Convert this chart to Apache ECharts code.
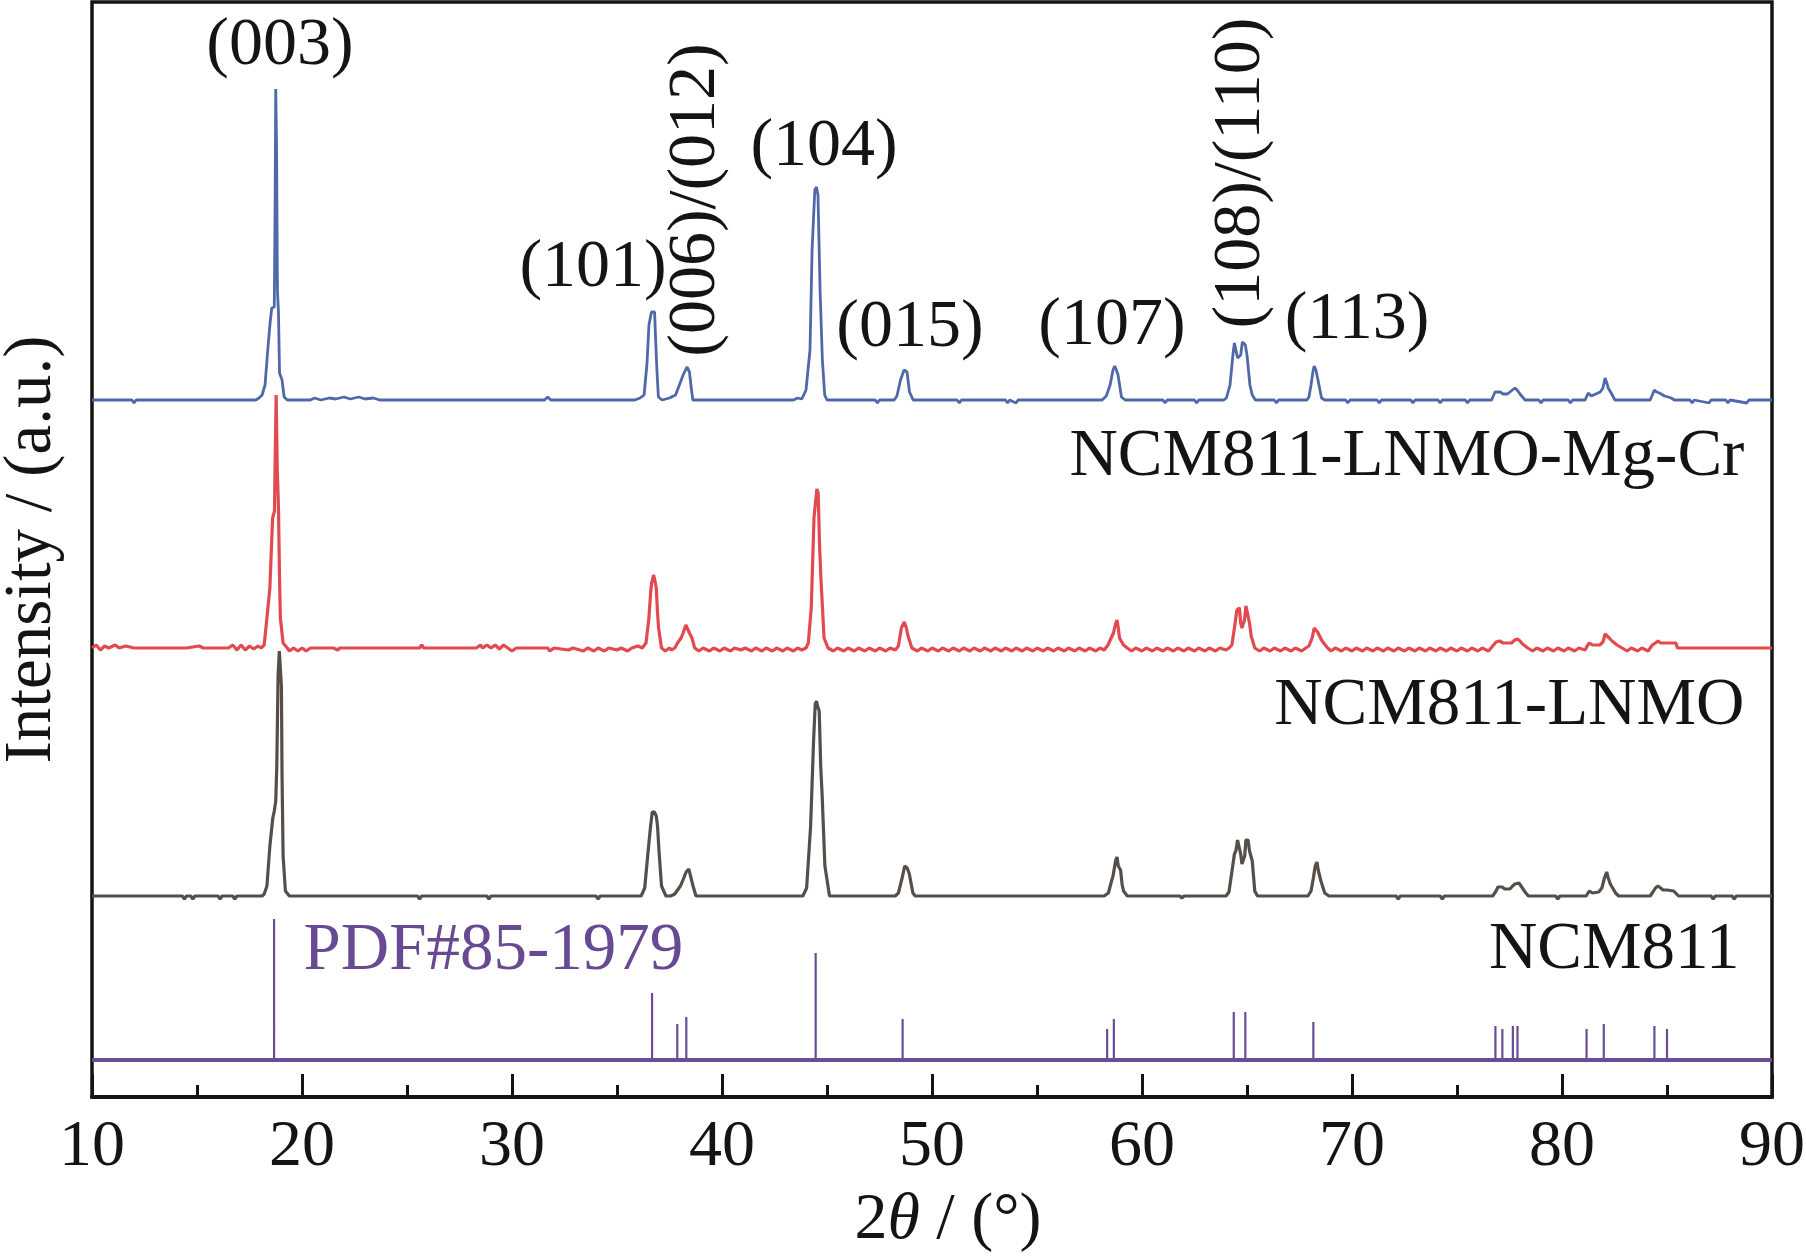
<!DOCTYPE html>
<html>
<head>
<meta charset="utf-8">
<script src="https://cdn.jsdelivr.net/npm/echarts@6/dist/echarts.min.js"></script>
<style>
html,body{margin:0;padding:0;background:#fff;}
#chart{width:1806px;height:1259px;}
</style>
</head>
<body>
<div id="chart"></div>
<script>
// ---- Data (2θ in degrees, intensity in arbitrary units) ----
const xTicks = [10, 20, 30, 40, 50, 60, 70, 80, 90];

// NCM811-LNMO-Mg-Cr (blue)
const mgcrProfile = [
[10,0],[11.9,0],[12.0,-3],[12.1,0],[17.8,0],[17.95,2],[18.1,5],[18.24,15],[18.35,45],[18.48,77],[18.56,92],[18.68,93],[18.72,200],[18.75,311],[18.79,250],[18.83,110],[18.88,87],[18.93,27],[19.05,20],[19.15,3],[19.3,0],
[20.4,0],[20.6,2],[20.9,0],[21.3,2],[21.6,1],[22.0,3],[22.3,1],[22.7,3],[23.0,1],[23.4,2],[23.7,0],
[31.55,0],[31.7,3],[31.85,0],
[35.85,0],[36.1,2],[36.29,5],[36.43,37],[36.52,75],[36.64,88],[36.79,88],[36.84,60],[36.9,30],[36.97,3],[37.15,0],[37.5,2],[37.79,5],[37.97,15],[38.15,25],[38.33,33],[38.45,28],[38.52,15],[38.61,0],
[43.4,0],[43.6,2],[43.8,1],[44.0,10],[44.19,50],[44.29,150],[44.42,210],[44.5,213],[44.57,205],[44.67,110],[44.78,40],[44.89,5],[45.0,0],
[47.3,0],[47.4,-3],[47.5,0],[48.2,0],[48.33,4],[48.5,20],[48.67,30],[48.81,28],[48.93,8],[49.1,0],
[51.2,0],[51.3,-3],[51.4,0],[53.5,0],[53.6,-3],[53.7,0],[54.0,-3],[54.1,0],
[58.1,0],[58.3,4],[58.48,15],[58.62,30],[58.7,34],[58.78,30],[58.86,25],[59.02,3],[59.2,0],
[61.0,0],[61.1,-3],[61.2,0],[62.5,0],[62.6,-3],[62.7,0],
[63.9,0],[64.02,2],[64.19,15],[64.33,45],[64.4,57],[64.47,57],[64.55,42],[64.62,40],[64.7,45],[64.78,58],[64.86,60],[64.92,55],[65.0,45],[65.14,15],[65.25,5],[65.4,0],
[66.3,0],[66.4,-3],[66.5,0],
[67.85,0],[67.95,3],[68.05,15],[68.15,30],[68.2,34],[68.28,30],[68.38,20],[68.55,2],[68.7,0],
[69.7,0],[69.8,-3],[69.9,0],[71.2,0],[71.3,-3],[71.4,0],
[72.8,0],[72.9,-3],[73.0,0],[74.1,0],[74.2,-3],[74.3,0],[75.4,0],[75.5,-3],[75.6,0],
[76.65,0],[76.81,8],[77.05,8],[77.2,6],[77.4,6],[77.52,8],[77.76,12],[77.9,9],[78.0,6],[78.24,0],
[78.9,0],[79.0,-3],[79.1,0],[80.3,0],[80.4,-3],[80.5,0],
[81.1,0],[81.25,7],[81.4,4],[81.5,5],[81.82,8],[81.95,12],[82.05,22],[82.12,18],[82.2,12],[82.37,6],[82.52,0],
[84.2,0],[84.4,10],[84.5,8],[84.64,7],[84.88,4],[85.2,2],[85.35,0],
[86.1,0],[86.2,-3],[86.3,0],[87.0,-3],[87.1,0],[87.8,0],[87.9,-3],[88.0,0],[88.8,-3],[88.9,0],[90,0]
];

// NCM811-LNMO (red)
const lnmoProfile = [
[10,0],[10.2,3],[10.4,-2],[10.6,2],[10.8,0],[11.1,3],[11.3,0],[11.6,2],[12.0,0],[14.5,0],[15.1,2],[15.3,0],[16.5,0],[16.7,3],[16.9,-2],[17.1,3],[17.3,-2],[17.5,2],[17.7,-1],[17.9,2],[18.05,0],
[18.2,3],[18.33,30],[18.47,60],[18.6,130],[18.69,137],[18.73,200],[18.77,253],[18.82,180],[18.88,140],[18.93,70],[18.97,30],[19.1,5],[19.3,0],[19.4,-3],[19.6,0],[19.8,-3],[20.0,0],[20.2,-3],[20.4,0],[21.5,0],[21.7,-2],[21.8,0],
[25.6,0],[25.7,3],[25.8,0],[28.3,0],[28.5,3],[28.6,0],[28.8,3],[29.0,0],[29.2,3],[29.4,-1],[29.6,3],[29.8,0],[30.0,-3],[30.2,0],
[31.7,0],[31.8,-3],[32.0,0],[32.7,-2],[32.9,0],[33.4,-3],[33.6,0],[33.9,-3],[34.1,0],[34.4,-3],[34.6,0],[35.0,-2],[35.2,0],[35.5,-3],[35.7,0],[36.0,2],[36.2,0],
[36.38,5],[36.52,30],[36.6,55],[36.65,65],[36.74,73],[36.8,68],[36.87,60],[36.93,35],[36.98,20],[37.12,0],[37.3,-3],[37.5,0],[37.6,-2],[37.75,0],
[37.88,5],[38.05,10],[38.15,15],[38.28,23],[38.37,23],[38.45,15],[38.57,10],[38.7,0],
[38.9,-3],[39.1,0],[39.4,-3],[39.6,0],[39.9,-3],[40.1,0],[40.4,-3],[40.6,0],[40.9,-2],[41.1,0],[41.4,-3],[41.6,0],[41.9,-3],[42.1,0],[42.4,-3],[42.6,0],[42.9,-3],[43.1,0],[43.4,-3],[43.6,0],[43.8,-2],[44.0,0],
[44.11,5],[44.25,40],[44.38,130],[44.45,145],[44.52,159],[44.58,155],[44.65,100],[44.71,70],[44.86,10],[45.05,0],
[45.3,-3],[45.5,0],[45.8,-3],[46.0,0],[46.3,-3],[46.5,0],[46.8,-3],[47.0,0],[47.3,-3],[47.5,0],[47.8,-3],[48.0,0],[48.25,-2],
[48.4,2],[48.54,20],[48.68,26],[48.78,20],[48.86,12],[49.04,0],
[49.3,-3],[49.5,0],[49.8,-3],[50.0,0],[50.3,-3],[50.5,0],[50.8,-3],[51.0,0],[51.3,-3],[51.5,0],[51.8,-3],[52.0,0],[52.3,-3],[52.5,0],[52.8,-3],[53.0,0],[53.3,-3],[53.5,0],[53.8,-3],[54.0,0],[54.3,-3],[54.5,0],[54.8,-3],[55.0,0],[55.3,-3],[55.5,0],[55.8,-3],[56.0,0],[56.3,-3],[56.5,0],[56.8,-3],[57.0,0],[57.3,-3],[57.5,0],[57.8,-3],[58.0,0],[58.2,-2],
[58.38,3],[58.64,15],[58.75,25],[58.81,28],[58.87,20],[58.93,10],[59.12,3],[59.3,0],
[59.5,-3],[59.7,0],[60.0,-3],[60.2,0],[60.5,-3],[60.7,0],[61.0,-3],[61.2,0],[61.5,-3],[61.7,0],[62.0,-3],[62.2,0],[62.5,-3],[62.7,0],[63.0,-3],[63.2,0],[63.5,-3],[63.7,0],[64.0,-2],[64.15,0],
[64.28,3],[64.4,20],[64.52,38],[64.58,40],[64.64,40],[64.7,25],[64.76,20],[64.82,22],[64.88,28],[64.95,42],[65.0,42],[65.07,30],[65.12,25],[65.2,12],[65.29,10],[65.37,0],
[65.6,-3],[65.8,0],[66.1,-3],[66.3,0],[66.6,-3],[66.8,0],[67.1,-3],[67.3,0],[67.6,-3],[67.8,0],
[67.95,2],[68.1,10],[68.2,20],[68.29,22],[68.36,16],[68.45,15],[68.55,8],[68.65,5],[68.84,0],
[69.0,-3],[69.2,0],[69.5,-3],[69.7,0],[70.0,-3],[70.2,0],[70.5,-3],[70.7,0],[71.0,-3],[71.2,0],[71.5,-3],[71.7,0],[72.0,-3],[72.2,0],[72.5,-3],[72.7,0],[73.0,-3],[73.2,0],[73.5,-3],[73.7,0],[74.0,-3],[74.2,0],[74.5,-3],[74.7,0],[75.0,-3],[75.2,0],[75.5,-3],[75.7,0],[76.0,-3],[76.2,0],[76.5,-3],
[76.7,2],[76.86,6],[76.95,8],[77.03,7],[77.2,5],[77.39,5],[77.6,5],[77.75,8],[77.88,9],[78.0,7],[78.12,4],[78.37,0],
[78.6,-3],[78.8,0],[79.1,-3],[79.3,0],[79.6,-3],[79.8,0],[80.1,-3],[80.3,0],[80.6,-3],[80.8,0],[81.1,-2],
[81.2,2],[81.3,5],[81.45,3],[81.65,3],[81.8,3],[81.95,6],[82.05,14],[82.13,16],[82.25,10],[82.38,7],[82.62,3],[82.86,0],
[83.1,-3],[83.3,0],[83.6,-3],[83.8,0],[84.1,-3],
[84.3,3],[84.45,5],[84.57,7],[84.7,5],[84.81,5],[85.0,5],[85.2,5],[85.42,5],[85.5,0],[90,0]
];

// NCM811 (dark grey)
const ncmProfile = [
[10,0],[14.3,0],[14.4,-3],[14.5,0],[14.7,0],[14.8,-3],[14.9,0],[16.0,0],[16.1,-3],[16.2,0],[16.7,0],[16.8,-3],[16.9,0],
[18.1,0],[18.2,2],[18.33,10],[18.47,50],[18.61,78],[18.68,85],[18.75,95],[18.8,130],[18.86,220],[18.92,245],[18.97,245],[19.02,210],[19.05,120],[19.1,40],[19.21,5],[19.4,0],
[25.5,0],[25.6,-3],[25.7,0],[28.8,0],[28.9,-3],[29.0,0],[34.0,0],[34.1,-3],[34.2,0],
[36.15,0],[36.32,8],[36.46,40],[36.6,70],[36.68,84],[36.78,84],[36.87,80],[36.93,70],[37.0,45],[37.12,10],[37.33,0],
[37.55,0],[37.75,2],[38.02,10],[38.18,18],[38.29,24],[38.42,27],[38.48,26],[38.62,10],[38.76,0],
[43.85,0],[44.03,8],[44.22,70],[44.36,155],[44.44,192],[44.5,195],[44.55,190],[44.63,185],[44.7,130],[44.77,100],[44.9,30],[45.12,0],
[48.25,0],[48.4,3],[48.6,20],[48.7,30],[48.76,32],[48.82,28],[48.92,22],[49.09,3],[49.2,0],
[58.2,0],[58.4,3],[58.55,15],[58.62,20],[58.75,36],[58.81,39],[58.87,30],[58.98,26],[59.05,12],[59.12,5],[59.3,0],
[61.8,0],[61.9,-2],[62.0,0],
[64.0,0],[64.14,4],[64.32,30],[64.4,42],[64.47,45],[64.55,56],[64.63,56],[64.7,42],[64.76,32],[64.89,40],[64.95,56],[65.05,56],[65.12,45],[65.25,35],[65.37,5],[65.5,0],
[67.9,0],[68.05,5],[68.16,18],[68.25,30],[68.33,34],[68.4,25],[68.52,15],[68.7,3],[68.9,0],
[72.1,0],[72.2,-3],[72.3,0],[74.2,0],[74.3,-3],[74.4,0],
[76.7,0],[76.86,5],[76.95,9],[77.03,11],[77.15,9],[77.28,7],[77.52,7],[77.65,10],[77.76,12],[77.95,13],[78.05,10],[78.24,4],[78.4,0],
[79.7,0],[79.8,-3],[79.9,0],
[81.15,0],[81.3,5],[81.45,3],[81.53,4],[81.75,4],[81.9,8],[82.02,18],[82.13,24],[82.2,18],[82.3,12],[82.55,3],[82.7,0],
[84.2,0],[84.33,4],[84.45,8],[84.57,10],[84.7,8],[84.81,6],[85.0,6],[85.32,5],[85.55,0],
[87.1,0],[87.2,-3],[87.3,0],[88.1,0],[88.2,-3],[88.3,0],[90,0]
];

// Reference card PDF#85-1979 (purple sticks)
const pdfTheta  = [18.67, 36.67, 37.87, 38.30, 44.46, 48.60, 58.34, 58.66, 64.37, 64.92, 68.16, 76.83, 77.16, 77.66, 77.88, 81.17, 81.99, 84.40, 85.00];
const pdfHeight = [141, 67, 36, 43, 107, 41, 31, 41, 48, 48, 38, 34, 31, 34, 34, 31, 36, 34, 31];

// Peak index labels: [text, 2θ, height, rotated]
const hklLabels = [
  ['(003)', 18.95, 1051, false],
  ['(101)', 33.86, 829, false],
  ['(006)/(012)', 38.75, 897, true],
  ['(104)', 44.86, 950, false],
  ['(015)', 48.95, 769, false],
  ['(107)', 58.57, 771, false],
  ['(108)/(110)', 64.7, 924, true],
  ['(113)', 70.24, 777, false]
];
// Sample names: [text, 2θ, height, colour, side]
const sampleLabels = [
  ['NCM811-LNMO-Mg-Cr', 88.71, 640, '#141414', 'left'],
  ['NCM811-LNMO', 88.71, 391, '#141414', 'left'],
  ['NCM811', 88.48, 147, '#141414', 'left'],
  ['PDF#85-1979', 20.05, 146, '#674a92', 'right']
];

// vertical offsets of each stacked pattern (same units as intensity)
const offsets = {mgcr: 697, lnmo: 449, ncm: 201, pdf: 37};

// ---- Build chart ----
const FONT = "'Liberation Serif','Times New Roman',serif";
const shift = (arr, off) => arr.map(p => [p[0], p[1] + off]);

const stickData = [];
pdfTheta.forEach((t, i) => {
  stickData.push([t, offsets.pdf], [t, offsets.pdf + pdfHeight[i]], [t, offsets.pdf]);
});

const chart = echarts.init(document.getElementById('chart'), null, {renderer: 'canvas'});
const option = {
  backgroundColor: '#ffffff',
  animation: false,
  grid: {left: 92, right: 34, top: 2, bottom: 162, containLabel: false, outerBoundsMode: 'none',
    show: true, borderColor: '#141414', borderWidth: 3.5, backgroundColor: 'transparent'},
  xAxis: {
    type: 'value', min: 10, max: 90, interval: 10,
    axisLine: {show: true, onZero: false, lineStyle: {color: '#141414', width: 4}},
    axisTick: {show: true, inside: true, length: 23, lineStyle: {color: '#141414', width: 3}},
    minorTick: {show: true, splitNumber: 2, length: 12, lineStyle: {color: '#141414', width: 3}},
    splitLine: {show: false},
    axisLabel: {fontFamily: FONT, fontSize: 66, color: '#141414', margin: 18,
      formatter: v => xTicks.includes(v) ? String(v) : ''},
    name: '2{i|θ} / (°)',
    nameLocation: 'middle', nameGap: 91,
    nameTextStyle: {fontFamily: FONT, fontSize: 66, color: '#141414', padding: [0, 0, 0, 32],
      rich: {i: {fontFamily: FONT, fontSize: 66, fontStyle: 'italic', color: '#141414'}}}
  },
  yAxis: {
    type: 'value', min: 0, max: 1095,
    axisLine: {show: false}, axisTick: {show: false}, axisLabel: {show: false}, splitLine: {show: false},
    name: 'Intensity / (a.u.)', nameLocation: 'middle', nameGap: 26,
    nameTextStyle: {fontFamily: FONT, fontSize: 67, color: '#141414'}
  },
  series: [
    {type: 'line', name: 'NCM811-LNMO-Mg-Cr', data: shift(mgcrProfile, offsets.mgcr), showSymbol: false, symbol: 'none',
      lineStyle: {color: '#4f68a8', width: 2.8}, z: 5},
    {type: 'line', name: 'NCM811-LNMO', data: shift(lnmoProfile, offsets.lnmo), showSymbol: false, symbol: 'none',
      lineStyle: {color: '#e24a4f', width: 3.2}, z: 4},
    {type: 'line', name: 'NCM811', data: shift(ncmProfile, offsets.ncm), showSymbol: false, symbol: 'none',
      lineStyle: {color: '#564e49', width: 3.2}, z: 3},
    {type: 'line', name: 'PDF sticks', data: stickData, showSymbol: false, symbol: 'none',
      lineStyle: {color: '#6a4e94', width: 2.2}, z: 2},
    {type: 'line', name: 'PDF base', data: [[10, offsets.pdf], [90, offsets.pdf]], showSymbol: false, symbol: 'none',
      lineStyle: {color: '#6a4e94', width: 4}, z: 2},
    {type: 'scatter', name: 'hkl', symbolSize: 1, itemStyle: {color: 'rgba(0,0,0,0)', opacity: 1}, z: 10,
      data: hklLabels.map(l => ({value: [l[1], l[2]], label: {show: true, formatter: l[0], position: 'inside',
        rotate: l[3] ? 90 : 0, fontFamily: FONT, fontSize: 68, color: '#141414', opacity: 1, textBorderWidth: 0}}))},
    {type: 'scatter', name: 'samples', symbolSize: 1, itemStyle: {color: 'rgba(0,0,0,0)', opacity: 1}, z: 10,
      data: sampleLabels.map(l => ({value: [l[1], l[2]], label: {show: true, formatter: l[0], position: l[4], distance: 0,
        fontFamily: FONT, fontSize: 67, color: l[3], opacity: 1, textBorderWidth: 0}}))}
  ]
};
chart.setOption(option);
</script>
</body>
</html>
